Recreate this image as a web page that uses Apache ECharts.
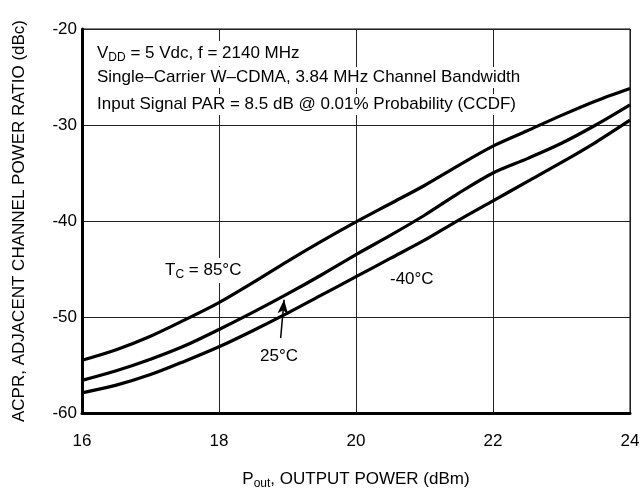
<!DOCTYPE html>
<html>
<head>
<meta charset="utf-8">
<script src="https://cdn.jsdelivr.net/npm/echarts@6/dist/echarts.min.js"></script>
<style>
html,body{margin:0;padding:0;background:#fff;}
#chart{width:644px;height:488px;}
</style>
</head>
<body>
<div id="chart"></div>
<script>
const FONT = "'Liberation Sans', Arial, Helvetica, sans-serif";
const pout = [16, 16.5, 17, 17.5, 18, 18.5, 19, 19.5, 20, 20.5, 21, 21.5, 22, 22.5, 23, 23.5, 24];
const acpr85 = [-54.5, -53.4, -52.0, -50.3, -48.5, -46.4, -44.2, -42.1, -40.1, -38.2, -36.3, -34.2, -32.2, -30.6, -29.0, -27.5, -26.2];
const acpr25 = [-56.6, -55.6, -54.4, -53.0, -51.3, -49.5, -47.6, -45.6, -43.5, -41.5, -39.4, -37.1, -35.0, -33.5, -31.9, -30.0, -27.9];
const acprM40 = [-57.9, -57.1, -56.0, -54.6, -53.1, -51.4, -49.6, -47.7, -45.8, -43.9, -42.0, -39.9, -37.9, -35.9, -33.9, -31.8, -29.5];
const xTicks = [16, 18, 20, 22, 24];
const yTicks = [-60, -50, -40, -30, -20];

function pairs(ys) { return pout.map((x, i) => [x, ys[i]]); }

const chart = echarts.init(document.getElementById('chart'), null, {renderer: 'canvas'});
const lineStyle = {color: '#000', width: 3.2};
const subRich = {
  a: {fontSize: 17, fontFamily: FONT, color: '#000'},
  s: {fontSize: 12, fontFamily: FONT, color: '#000', padding: [9, 0, 0, 0]}
};
function annot(x, y, text, bg) {
  return {
    type: 'text', left: x, top: y, z: 10,
    style: {
      text: text, rich: subRich, fill: '#000', font: '17px ' + FONT,
      backgroundColor: bg ? '#fff' : null, padding: bg ? [2, 3, 2, 3] : 0
    }
  };
}
const lineSeries = (name, ys, extra) => Object.assign({
  type: 'line', name: name, data: pairs(ys), smooth: 0.3,
  showSymbol: false, lineStyle: lineStyle, z: 3
}, extra || {});

chart.setOption({
  animation: false,
  backgroundColor: '#fff',
  grid: {left: 82, right: 14, top: 29, bottom: 75, show: true, borderColor: '#000', borderWidth: 1,
         containLabel: false, outerBoundsMode: 'none'},
  xAxis: {
    type: 'value', min: xTicks[0], max: xTicks[xTicks.length - 1], interval: 2,
    axisLine: {show: true, onZero: false, lineStyle: {color: '#000', width: 3}},
    axisTick: {show: false},
    splitLine: {show: true, lineStyle: {color: '#222', width: 1}},
    axisLabel: {margin: 20, color: '#000', fontSize: 17, fontFamily: FONT},
    name: '{a|P}{s|out}{a|, OUTPUT POWER (dBm)}',
    nameLocation: 'middle', nameGap: 56,
    nameTextStyle: {rich: subRich}
  },
  yAxis: {
    type: 'value', min: yTicks[0], max: yTicks[yTicks.length - 1], interval: 10,
    axisLine: {show: true, onZero: false, lineStyle: {color: '#000', width: 3}},
    axisTick: {show: false},
    splitLine: {show: true, lineStyle: {color: '#222', width: 1}},
    axisLabel: {margin: 5, color: '#000', fontSize: 17, fontFamily: FONT},
    name: 'ACPR, ADJACENT CHANNEL POWER RATIO (dBc)',
    nameLocation: 'middle', nameGap: 54,
    nameTextStyle: {color: '#000', fontSize: 17, fontFamily: FONT}
  },
  series: [
    lineSeries('85', acpr85),
    lineSeries('25', acpr25, {
      markLine: {
        silent: true, symbol: ['none', 'arrow'], symbolSize: [8, 14],
        lineStyle: {color: '#000', width: 1.5, type: 'solid'}, label: {show: false},
        data: [[{coord: [18.9, -52.2]}, {coord: [18.95, -48.2]}]]
      }
    }),
    lineSeries('-40', acprM40)
  ],
  graphic: [
    annot(94, 41, '{a|V}{s|DD}{a| = 5 Vdc, f = 2140 MHz}', true),
    annot(94, 67, 'Single\u2013Carrier W\u2013CDMA, 3.84 MHz Channel Bandwidth', true),
    annot(94, 94, 'Input Signal PAR = 8.5 dB @ 0.01% Probability (CCDF)', true),
    annot(162, 258, '{a|T}{s|C}{a| = 85\u00b0C}', true),
    annot(260, 348, '25\u00b0C', false),
    annot(390, 271, '-40\u00b0C', false)
  ]
});
</script>
</body>
</html>
